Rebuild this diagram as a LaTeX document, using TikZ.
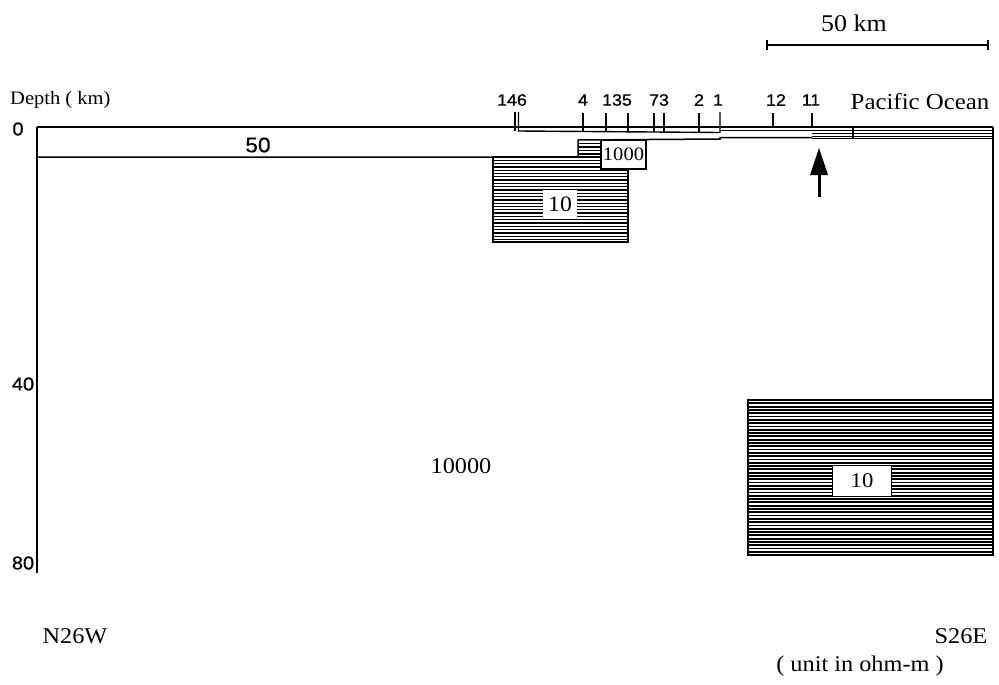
\documentclass[tikz,border=0pt]{standalone}
\usepackage{fontspec}
\setmainfont{Liberation Serif}[FakeStretch=1.08]
\newfontfamily\sansf{Liberation Sans}[FakeStretch=1.08,FakeBold=0.8]
\begin{document}
\begin{tikzpicture}[x=1pt,y=-1pt]
\tikzset{
  edge/.style={line width=1.5pt},
  thinedge/.style={line width=1.1pt},
  tickmark/.style={line width=1.4pt},
  hatchA/.style={line width=1.3pt},
  hatchB/.style={line width=1.8pt},
  ticklab/.style={font=\sansf\fontsize{16.5}{16.5}\selectfont, inner sep=0pt},
  axlab/.style={font=\sansf\fontsize{18.5}{18.5}\selectfont, inner sep=0pt},
  serlab/.style={font=\fontsize{22.5}{22.5}\selectfont, inner sep=0pt},
  valbox/.style={fill=white, inner sep=0pt, minimum width=34pt, minimum height=28pt, font=\fontsize{22}{22}\selectfont}
}
\useasboundingbox (0,0) rectangle (999,685);

% scale bar
\coordinate (sbL) at (767,45);
\coordinate (sbR) at (988,45);
\draw[line width=1.8pt] (sbL) -- (sbR);
\draw[line width=1.8pt] (767,40) -- (767,50);
\draw[line width=1.8pt] (988,40) -- (988,50);
\node[serlab, font=\fontsize{24}{24}\selectfont] (sbtext) at (854,23) {50 km};

% headings
\node[serlab, anchor=west, font=\fontsize{19}{19}\selectfont] (depth) at (10,100) {Depth ( km)};
\node[serlab, font=\fontsize{23}{23}\selectfont] (pacific) at (920,102) {Pacific Ocean};

% upper 10 ohm block
\foreach \y in {160.3,163.6,...,241} \draw[hatchA] (493,\y) -- (628,\y);
\draw[edge] (493,157) rectangle (628,242);
\node[valbox] (ten1) at (560,204) {10};

% small hatched step
\foreach \y in {143.5,147,150.5,154} \draw[hatchA] (578,\y) -- (601,\y);

% lower 10 ohm block
\foreach \y in {403.3,406.6,...,553} \draw[hatchB] (748,\y) -- (993,\y);
\draw[edge] (748,400) rectangle (993,555);
\node[valbox, minimum width=59pt, minimum height=31pt, draw, line width=0.8pt, font=\fontsize{21}{21}\selectfont] (ten2) at (862,481) {10};

% ocean strip
\foreach \y in {130,133,136} \draw[line width=0.8pt] (812,\y) -- (993,\y);
\draw[edge] (812,138.5) -- (993,138.5);
\draw[edge] (853,127) -- (853,139);

% frame
\draw[thinedge] (37,127) -- (993,127);
\draw[edge] (37,127) -- (37,573);
\draw[edge] (993,127) -- (993,400);

% layer boundaries
\draw[edge] (37,157) -- (578,157) -- (578,140) -- (720,139) -- (720,137.5) -- (812,137.5);
\draw[line width=0.8pt] (720,130) -- (812,130);

% 1000 box
\node[draw, line width=1.4pt, fill=white, minimum width=45pt, minimum height=29pt, inner sep=0pt, font=\fontsize{19}{19}\selectfont] (thousand) at (623.5,154.5) {1000};

% station bracket and ticks
\draw[tickmark] (515,112) -- (515,131);
\draw[tickmark] (518.5,112) -- (518.5,131) -- (720,132.5) -- (720,112);
\foreach \x in {583,606,628,654,664,699} \draw[tickmark] (\x,113) -- (\x,131.5);
\foreach \x in {773,812} \draw[tickmark] (\x,113) -- (\x,128);

\node[ticklab] (s146) at (512,100) {146};
\node[ticklab] (s4) at (583,100) {4};
\node[ticklab] (s135) at (617,100) {135};
\node[ticklab] (s73) at (659,100) {73};
\node[ticklab] (s2) at (699,100) {2};
\node[ticklab] (s1) at (718,100) {1};
\node[ticklab] (s12) at (776,100) {12};
\node[ticklab] (s11) at (811,100) {11};

% arrow
\coordinate (arTail) at (819,197);
\coordinate (arTip) at (819,148);
\draw[line width=3pt] (arTail) -- (819,168);
\fill (arTip) -- (810,175) -- (828,175) -- cycle;

% axis labels
\node[axlab] (d0) at (18,129) {0};
\node[axlab] (d40) at (23,384) {40};
\node[axlab] (d80) at (23,563) {80};

% values
\node[axlab, font=\sansf\fontsize{21}{21}\selectfont] (v50) at (258,145) {50};
\node[serlab] (v10000) at (461,466) {10000};

% directions and unit
\node[serlab] (nw) at (75,636) {N26W};
\node[serlab] (se) at (961,636) {S26E};
\node[serlab] (unit) at (860,666) {( unit in ohm-m )};
\end{tikzpicture}
\end{document}
